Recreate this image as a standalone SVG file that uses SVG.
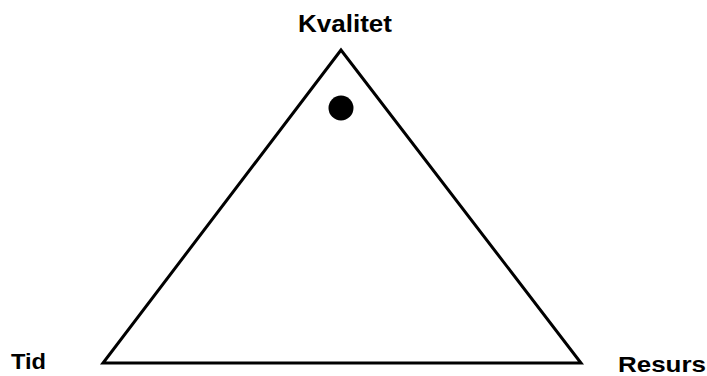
<svg xmlns="http://www.w3.org/2000/svg" width="707" height="376" viewBox="0 0 707 376">
<style>
.lbl{font-family:"Liberation Sans",Arial,sans-serif;font-weight:bold;fill:#000}
</style>
<rect width="707" height="376" fill="#fff"/>
<g id="triangle">
<polygon points="341,50 103,363 581,363" fill="none" stroke="#000" stroke-width="3" stroke-linejoin="miter"/>
</g>
<g id="dot">
<circle cx="341" cy="108" r="12.5" fill="#000"/>
</g>
<g id="kvalitet"><text class="lbl" x="298" y="32" font-size="23" textLength="94" lengthAdjust="spacingAndGlyphs">Kvalitet</text></g>
<g id="tid"><text class="lbl" x="11" y="369" font-size="22" textLength="35" lengthAdjust="spacingAndGlyphs">Tid</text></g>
<g id="resurs"><text class="lbl" x="618" y="372" font-size="22" textLength="88" lengthAdjust="spacingAndGlyphs">Resurs</text></g>
</svg>
